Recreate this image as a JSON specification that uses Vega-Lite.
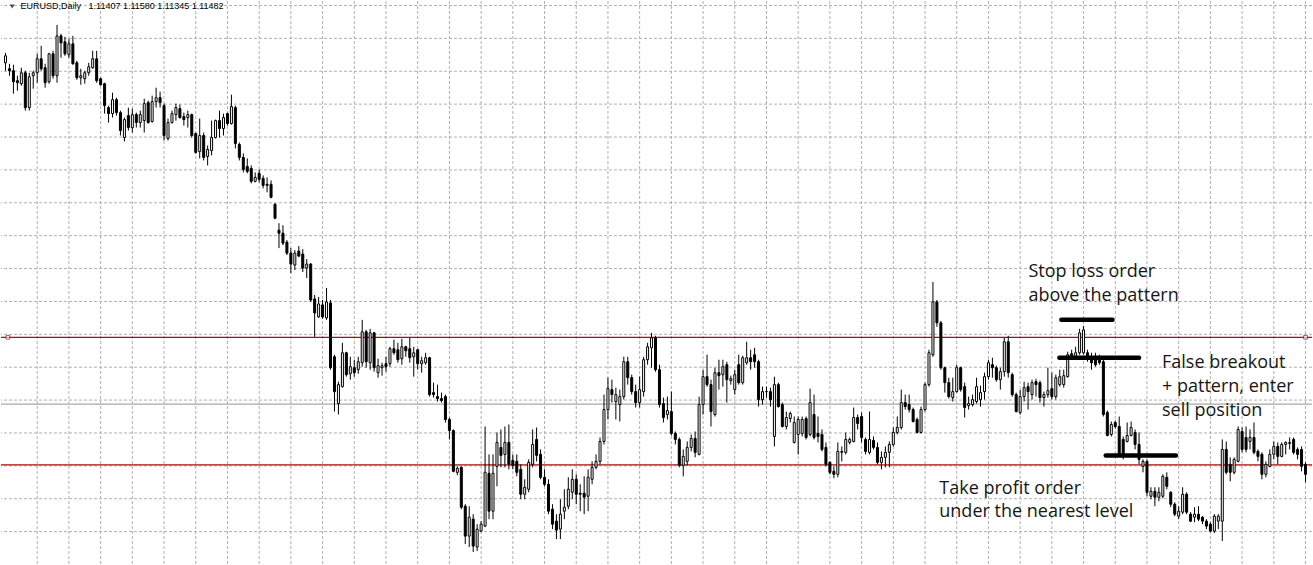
{
"$schema": "https://vega.github.io/schema/vega-lite/v6.json",
"width": 1313, "height": 565,
"autosize": {"type": "fit", "contains": "padding"},
"padding": 0,
"background": "white",
"config": {"view": {"stroke": null}},
"datasets": {
"candles": [
{"i":-1,"o":1.1956,"h":1.1976,"l":1.1940,"c":1.1970},
{"i":0,"o":1.1944,"h":1.1954,"l":1.1930,"c":1.1940},
{"i":1,"o":1.1940,"h":1.1952,"l":1.1894,"c":1.1918},
{"i":2,"o":1.1920,"h":1.1930,"l":1.1900,"c":1.1916},
{"i":3,"o":1.1914,"h":1.1946,"l":1.1910,"c":1.1936},
{"i":4,"o":1.1936,"h":1.1940,"l":1.1860,"c":1.1866},
{"i":5,"o":1.1866,"h":1.1936,"l":1.1860,"c":1.1928},
{"i":6,"o":1.1930,"h":1.1940,"l":1.1904,"c":1.1936},
{"i":7,"o":1.1936,"h":1.1974,"l":1.1916,"c":1.1964},
{"i":8,"o":1.1964,"h":1.1990,"l":1.1940,"c":1.1944},
{"i":9,"o":1.1946,"h":1.1954,"l":1.1906,"c":1.1916},
{"i":10,"o":1.1918,"h":1.1976,"l":1.1914,"c":1.1974},
{"i":11,"o":1.1974,"h":1.1980,"l":1.1924,"c":1.1930},
{"i":12,"o":1.1930,"h":1.2032,"l":1.1916,"c":1.2010},
{"i":13,"o":1.2010,"h":1.2014,"l":1.1966,"c":1.1996},
{"i":14,"o":1.1998,"h":1.2008,"l":1.1970,"c":1.1974},
{"i":15,"o":1.1972,"h":1.2004,"l":1.1966,"c":1.1994},
{"i":16,"o":1.1994,"h":1.2010,"l":1.1952,"c":1.1954},
{"i":17,"o":1.1956,"h":1.1960,"l":1.1922,"c":1.1926},
{"i":18,"o":1.1926,"h":1.1944,"l":1.1912,"c":1.1930},
{"i":19,"o":1.1924,"h":1.1940,"l":1.1914,"c":1.1936},
{"i":20,"o":1.1936,"h":1.1956,"l":1.1930,"c":1.1948},
{"i":21,"o":1.1946,"h":1.1980,"l":1.1944,"c":1.1964},
{"i":22,"o":1.1964,"h":1.1980,"l":1.1916,"c":1.1920},
{"i":23,"o":1.1924,"h":1.1926,"l":1.1910,"c":1.1912},
{"i":24,"o":1.1914,"h":1.1916,"l":1.1854,"c":1.1870},
{"i":25,"o":1.1866,"h":1.1870,"l":1.1836,"c":1.1854},
{"i":26,"o":1.1854,"h":1.1896,"l":1.1846,"c":1.1882},
{"i":27,"o":1.1882,"h":1.1886,"l":1.1850,"c":1.1856},
{"i":28,"o":1.1856,"h":1.1860,"l":1.1810,"c":1.1820},
{"i":29,"o":1.1806,"h":1.1846,"l":1.1798,"c":1.1842},
{"i":30,"o":1.1850,"h":1.1866,"l":1.1820,"c":1.1826},
{"i":31,"o":1.1826,"h":1.1864,"l":1.1816,"c":1.1852},
{"i":32,"o":1.1852,"h":1.1856,"l":1.1826,"c":1.1836},
{"i":33,"o":1.1836,"h":1.1860,"l":1.1826,"c":1.1852},
{"i":34,"o":1.1840,"h":1.1884,"l":1.1816,"c":1.1874},
{"i":35,"o":1.1876,"h":1.1880,"l":1.1834,"c":1.1836},
{"i":36,"o":1.1838,"h":1.1890,"l":1.1836,"c":1.1878},
{"i":37,"o":1.1878,"h":1.1906,"l":1.1866,"c":1.1886},
{"i":38,"o":1.1886,"h":1.1898,"l":1.1866,"c":1.1876},
{"i":39,"o":1.1870,"h":1.1874,"l":1.1800,"c":1.1810},
{"i":40,"o":1.1804,"h":1.1844,"l":1.1800,"c":1.1836},
{"i":41,"o":1.1836,"h":1.1860,"l":1.1834,"c":1.1854},
{"i":42,"o":1.1852,"h":1.1874,"l":1.1840,"c":1.1866},
{"i":43,"o":1.1864,"h":1.1872,"l":1.1844,"c":1.1846},
{"i":44,"o":1.1848,"h":1.1856,"l":1.1830,"c":1.1842},
{"i":45,"o":1.1846,"h":1.1860,"l":1.1826,"c":1.1852},
{"i":46,"o":1.1852,"h":1.1854,"l":1.1806,"c":1.1810},
{"i":47,"o":1.1814,"h":1.1816,"l":1.1774,"c":1.1776},
{"i":48,"o":1.1778,"h":1.1844,"l":1.1764,"c":1.1810},
{"i":49,"o":1.1810,"h":1.1816,"l":1.1760,"c":1.1766},
{"i":50,"o":1.1768,"h":1.1790,"l":1.1750,"c":1.1782},
{"i":51,"o":1.1780,"h":1.1840,"l":1.1770,"c":1.1806},
{"i":52,"o":1.1806,"h":1.1842,"l":1.1804,"c":1.1840},
{"i":53,"o":1.1840,"h":1.1860,"l":1.1806,"c":1.1824},
{"i":54,"o":1.1824,"h":1.1854,"l":1.1810,"c":1.1846},
{"i":55,"o":1.1854,"h":1.1856,"l":1.1830,"c":1.1834},
{"i":56,"o":1.1834,"h":1.1892,"l":1.1832,"c":1.1868},
{"i":57,"o":1.1866,"h":1.1870,"l":1.1784,"c":1.1794},
{"i":58,"o":1.1792,"h":1.1796,"l":1.1760,"c":1.1766},
{"i":59,"o":1.1766,"h":1.1774,"l":1.1736,"c":1.1742},
{"i":60,"o":1.1748,"h":1.1764,"l":1.1734,"c":1.1738},
{"i":61,"o":1.1744,"h":1.1750,"l":1.1714,"c":1.1718},
{"i":62,"o":1.1718,"h":1.1736,"l":1.1716,"c":1.1726},
{"i":63,"o":1.1734,"h":1.1742,"l":1.1716,"c":1.1722},
{"i":64,"o":1.1724,"h":1.1730,"l":1.1704,"c":1.1710},
{"i":65,"o":1.1712,"h":1.1726,"l":1.1696,"c":1.1710},
{"i":66,"o":1.1712,"h":1.1720,"l":1.1684,"c":1.1686},
{"i":67,"o":1.1672,"h":1.1674,"l":1.1642,"c":1.1644},
{"i":68,"o":1.1620,"h":1.1634,"l":1.1584,"c":1.1614},
{"i":69,"o":1.1614,"h":1.1630,"l":1.1590,"c":1.1594},
{"i":70,"o":1.1596,"h":1.1600,"l":1.1570,"c":1.1574},
{"i":71,"o":1.1574,"h":1.1584,"l":1.1534,"c":1.1552},
{"i":72,"o":1.1550,"h":1.1580,"l":1.1540,"c":1.1574},
{"i":73,"o":1.1578,"h":1.1588,"l":1.1566,"c":1.1568},
{"i":74,"o":1.1572,"h":1.1582,"l":1.1536,"c":1.1544},
{"i":75,"o":1.1544,"h":1.1562,"l":1.1524,"c":1.1552},
{"i":76,"o":1.1552,"h":1.1554,"l":1.1476,"c":1.1480},
{"i":77,"o":1.1482,"h":1.1490,"l":1.1406,"c":1.1454},
{"i":78,"o":1.1446,"h":1.1486,"l":1.1444,"c":1.1472},
{"i":79,"o":1.1470,"h":1.1480,"l":1.1442,"c":1.1446},
{"i":80,"o":1.1444,"h":1.1504,"l":1.1440,"c":1.1476},
{"i":81,"o":1.1474,"h":1.1480,"l":1.1340,"c":1.1344},
{"i":82,"o":1.1366,"h":1.1370,"l":1.1256,"c":1.1296},
{"i":83,"o":1.1272,"h":1.1316,"l":1.1250,"c":1.1310},
{"i":84,"o":1.1306,"h":1.1394,"l":1.1304,"c":1.1374},
{"i":85,"o":1.1374,"h":1.1376,"l":1.1326,"c":1.1330},
{"i":86,"o":1.1332,"h":1.1366,"l":1.1320,"c":1.1346},
{"i":87,"o":1.1344,"h":1.1360,"l":1.1326,"c":1.1334},
{"i":88,"o":1.1340,"h":1.1366,"l":1.1332,"c":1.1356},
{"i":89,"o":1.1354,"h":1.1440,"l":1.1346,"c":1.1416},
{"i":90,"o":1.1416,"h":1.1420,"l":1.1344,"c":1.1356},
{"i":91,"o":1.1354,"h":1.1422,"l":1.1340,"c":1.1414},
{"i":92,"o":1.1414,"h":1.1416,"l":1.1336,"c":1.1344},
{"i":93,"o":1.1334,"h":1.1362,"l":1.1324,"c":1.1348},
{"i":94,"o":1.1344,"h":1.1354,"l":1.1328,"c":1.1348},
{"i":95,"o":1.1352,"h":1.1366,"l":1.1336,"c":1.1346},
{"i":96,"o":1.1352,"h":1.1386,"l":1.1346,"c":1.1382},
{"i":97,"o":1.1382,"h":1.1400,"l":1.1370,"c":1.1374},
{"i":98,"o":1.1380,"h":1.1394,"l":1.1354,"c":1.1360},
{"i":99,"o":1.1362,"h":1.1402,"l":1.1350,"c":1.1386},
{"i":100,"o":1.1386,"h":1.1388,"l":1.1366,"c":1.1378},
{"i":101,"o":1.1382,"h":1.1404,"l":1.1354,"c":1.1364},
{"i":102,"o":1.1366,"h":1.1386,"l":1.1326,"c":1.1374},
{"i":103,"o":1.1380,"h":1.1382,"l":1.1340,"c":1.1352},
{"i":104,"o":1.1352,"h":1.1366,"l":1.1334,"c":1.1358},
{"i":105,"o":1.1354,"h":1.1374,"l":1.1350,"c":1.1364},
{"i":106,"o":1.1364,"h":1.1366,"l":1.1286,"c":1.1290},
{"i":107,"o":1.1294,"h":1.1314,"l":1.1284,"c":1.1290},
{"i":108,"o":1.1286,"h":1.1310,"l":1.1276,"c":1.1282},
{"i":109,"o":1.1282,"h":1.1294,"l":1.1274,"c":1.1278},
{"i":110,"o":1.1286,"h":1.1290,"l":1.1234,"c":1.1240},
{"i":111,"o":1.1240,"h":1.1244,"l":1.1200,"c":1.1218},
{"i":112,"o":1.1218,"h":1.1220,"l":1.1134,"c":1.1136},
{"i":113,"o":1.1134,"h":1.1146,"l":1.1128,"c":1.1142},
{"i":114,"o":1.1144,"h":1.1146,"l":1.1060,"c":1.1064},
{"i":115,"o":1.1066,"h":1.1070,"l":1.0990,"c":1.1006},
{"i":116,"o":1.1006,"h":1.1066,"l":1.0984,"c":1.1044},
{"i":117,"o":1.1040,"h":1.1050,"l":1.0974,"c":1.0986},
{"i":118,"o":1.0984,"h":1.1030,"l":1.0976,"c":1.1020},
{"i":119,"o":1.1016,"h":1.1036,"l":1.1014,"c":1.1030},
{"i":120,"o":1.1026,"h":1.1226,"l":1.1024,"c":1.1134},
{"i":121,"o":1.1132,"h":1.1170,"l":1.1040,"c":1.1056},
{"i":122,"o":1.1056,"h":1.1170,"l":1.1040,"c":1.1132},
{"i":123,"o":1.1146,"h":1.1214,"l":1.1106,"c":1.1194},
{"i":124,"o":1.1184,"h":1.1220,"l":1.1144,"c":1.1168},
{"i":125,"o":1.1170,"h":1.1226,"l":1.1144,"c":1.1194},
{"i":126,"o":1.1194,"h":1.1230,"l":1.1140,"c":1.1150},
{"i":127,"o":1.1158,"h":1.1170,"l":1.1140,"c":1.1148},
{"i":128,"o":1.1156,"h":1.1170,"l":1.1126,"c":1.1134},
{"i":129,"o":1.1140,"h":1.1150,"l":1.1080,"c":1.1090},
{"i":130,"o":1.1090,"h":1.1120,"l":1.1080,"c":1.1104},
{"i":131,"o":1.1100,"h":1.1160,"l":1.1094,"c":1.1154},
{"i":132,"o":1.1150,"h":1.1220,"l":1.1144,"c":1.1190},
{"i":133,"o":1.1200,"h":1.1224,"l":1.1156,"c":1.1168},
{"i":134,"o":1.1170,"h":1.1180,"l":1.1120,"c":1.1124},
{"i":135,"o":1.1124,"h":1.1140,"l":1.1106,"c":1.1110},
{"i":136,"o":1.1110,"h":1.1120,"l":1.1050,"c":1.1056},
{"i":137,"o":1.1060,"h":1.1070,"l":1.1020,"c":1.1030},
{"i":138,"o":1.1036,"h":1.1050,"l":1.1000,"c":1.1018},
{"i":139,"o":1.1020,"h":1.1080,"l":1.1000,"c":1.1050},
{"i":140,"o":1.1056,"h":1.1100,"l":1.1040,"c":1.1064},
{"i":141,"o":1.1066,"h":1.1124,"l":1.1060,"c":1.1100},
{"i":142,"o":1.1094,"h":1.1140,"l":1.1080,"c":1.1120},
{"i":143,"o":1.1120,"h":1.1130,"l":1.1070,"c":1.1090},
{"i":144,"o":1.1092,"h":1.1110,"l":1.1056,"c":1.1090},
{"i":145,"o":1.1092,"h":1.1126,"l":1.1050,"c":1.1084},
{"i":146,"o":1.1086,"h":1.1140,"l":1.1056,"c":1.1124},
{"i":147,"o":1.1120,"h":1.1156,"l":1.1110,"c":1.1144},
{"i":148,"o":1.1144,"h":1.1170,"l":1.1140,"c":1.1156},
{"i":149,"o":1.1156,"h":1.1204,"l":1.1150,"c":1.1196},
{"i":150,"o":1.1196,"h":1.1290,"l":1.1190,"c":1.1260},
{"i":151,"o":1.1260,"h":1.1324,"l":1.1240,"c":1.1302},
{"i":152,"o":1.1300,"h":1.1320,"l":1.1274,"c":1.1290},
{"i":153,"o":1.1276,"h":1.1304,"l":1.1240,"c":1.1290},
{"i":154,"o":1.1270,"h":1.1300,"l":1.1236,"c":1.1286},
{"i":155,"o":1.1286,"h":1.1366,"l":1.1280,"c":1.1356},
{"i":156,"o":1.1356,"h":1.1366,"l":1.1310,"c":1.1324},
{"i":157,"o":1.1324,"h":1.1330,"l":1.1290,"c":1.1296},
{"i":158,"o":1.1296,"h":1.1310,"l":1.1264,"c":1.1274},
{"i":159,"o":1.1274,"h":1.1326,"l":1.1264,"c":1.1300},
{"i":160,"o":1.1296,"h":1.1366,"l":1.1286,"c":1.1360},
{"i":161,"o":1.1360,"h":1.1394,"l":1.1350,"c":1.1386},
{"i":162,"o":1.1384,"h":1.1414,"l":1.1344,"c":1.1404},
{"i":163,"o":1.1404,"h":1.1408,"l":1.1336,"c":1.1340},
{"i":164,"o":1.1340,"h":1.1350,"l":1.1264,"c":1.1270},
{"i":165,"o":1.1272,"h":1.1284,"l":1.1234,"c":1.1244},
{"i":166,"o":1.1250,"h":1.1286,"l":1.1240,"c":1.1258},
{"i":167,"o":1.1256,"h":1.1296,"l":1.1208,"c":1.1212},
{"i":168,"o":1.1212,"h":1.1216,"l":1.1190,"c":1.1200},
{"i":169,"o":1.1200,"h":1.1204,"l":1.1144,"c":1.1148},
{"i":170,"o":1.1148,"h":1.1180,"l":1.1126,"c":1.1166},
{"i":171,"o":1.1156,"h":1.1196,"l":1.1148,"c":1.1184},
{"i":172,"o":1.1184,"h":1.1210,"l":1.1176,"c":1.1202},
{"i":173,"o":1.1202,"h":1.1216,"l":1.1164,"c":1.1174},
{"i":174,"o":1.1170,"h":1.1286,"l":1.1168,"c":1.1270},
{"i":175,"o":1.1270,"h":1.1340,"l":1.1250,"c":1.1326},
{"i":176,"o":1.1326,"h":1.1370,"l":1.1306,"c":1.1310},
{"i":177,"o":1.1310,"h":1.1320,"l":1.1226,"c":1.1256},
{"i":178,"o":1.1250,"h":1.1344,"l":1.1246,"c":1.1334},
{"i":179,"o":1.1334,"h":1.1360,"l":1.1300,"c":1.1328},
{"i":180,"o":1.1330,"h":1.1360,"l":1.1306,"c":1.1346},
{"i":181,"o":1.1350,"h":1.1356,"l":1.1274,"c":1.1320},
{"i":182,"o":1.1318,"h":1.1328,"l":1.1310,"c":1.1322},
{"i":183,"o":1.1300,"h":1.1340,"l":1.1290,"c":1.1330},
{"i":184,"o":1.1350,"h":1.1370,"l":1.1310,"c":1.1314},
{"i":185,"o":1.1314,"h":1.1368,"l":1.1310,"c":1.1364},
{"i":186,"o":1.1354,"h":1.1396,"l":1.1350,"c":1.1364},
{"i":187,"o":1.1364,"h":1.1380,"l":1.1340,"c":1.1356},
{"i":188,"o":1.1370,"h":1.1384,"l":1.1344,"c":1.1356},
{"i":189,"o":1.1356,"h":1.1360,"l":1.1266,"c":1.1280},
{"i":190,"o":1.1280,"h":1.1306,"l":1.1270,"c":1.1296},
{"i":191,"o":1.1296,"h":1.1306,"l":1.1284,"c":1.1296},
{"i":192,"o":1.1296,"h":1.1304,"l":1.1266,"c":1.1280},
{"i":193,"o":1.1206,"h":1.1326,"l":1.1186,"c":1.1310},
{"i":194,"o":1.1310,"h":1.1314,"l":1.1264,"c":1.1266},
{"i":195,"o":1.1270,"h":1.1274,"l":1.1224,"c":1.1226},
{"i":196,"o":1.1226,"h":1.1256,"l":1.1220,"c":1.1244},
{"i":197,"o":1.1242,"h":1.1256,"l":1.1234,"c":1.1252},
{"i":198,"o":1.1194,"h":1.1246,"l":1.1192,"c":1.1234},
{"i":199,"o":1.1210,"h":1.1246,"l":1.1170,"c":1.1240},
{"i":200,"o":1.1212,"h":1.1246,"l":1.1206,"c":1.1240},
{"i":201,"o":1.1242,"h":1.1246,"l":1.1200,"c":1.1204},
{"i":202,"o":1.1210,"h":1.1302,"l":1.1206,"c":1.1274},
{"i":203,"o":1.1250,"h":1.1290,"l":1.1200,"c":1.1204},
{"i":204,"o":1.1212,"h":1.1246,"l":1.1194,"c":1.1206},
{"i":205,"o":1.1210,"h":1.1220,"l":1.1176,"c":1.1180},
{"i":206,"o":1.1184,"h":1.1194,"l":1.1146,"c":1.1150},
{"i":207,"o":1.1154,"h":1.1156,"l":1.1130,"c":1.1134},
{"i":208,"o":1.1136,"h":1.1146,"l":1.1122,"c":1.1130},
{"i":209,"o":1.1130,"h":1.1194,"l":1.1124,"c":1.1176},
{"i":210,"o":1.1174,"h":1.1186,"l":1.1156,"c":1.1176},
{"i":211,"o":1.1174,"h":1.1214,"l":1.1170,"c":1.1200},
{"i":212,"o":1.1194,"h":1.1204,"l":1.1190,"c":1.1200},
{"i":213,"o":1.1196,"h":1.1264,"l":1.1194,"c":1.1244},
{"i":214,"o":1.1244,"h":1.1250,"l":1.1220,"c":1.1232},
{"i":215,"o":1.1246,"h":1.1254,"l":1.1194,"c":1.1204},
{"i":216,"o":1.1200,"h":1.1204,"l":1.1170,"c":1.1176},
{"i":217,"o":1.1174,"h":1.1256,"l":1.1170,"c":1.1200},
{"i":218,"o":1.1198,"h":1.1206,"l":1.1180,"c":1.1184},
{"i":219,"o":1.1184,"h":1.1194,"l":1.1150,"c":1.1154},
{"i":220,"o":1.1154,"h":1.1176,"l":1.1140,"c":1.1164},
{"i":221,"o":1.1164,"h":1.1186,"l":1.1144,"c":1.1174},
{"i":222,"o":1.1174,"h":1.1196,"l":1.1144,"c":1.1190},
{"i":223,"o":1.1190,"h":1.1224,"l":1.1186,"c":1.1214},
{"i":224,"o":1.1214,"h":1.1246,"l":1.1210,"c":1.1224},
{"i":225,"o":1.1224,"h":1.1300,"l":1.1220,"c":1.1274},
{"i":226,"o":1.1274,"h":1.1290,"l":1.1260,"c":1.1266},
{"i":227,"o":1.1270,"h":1.1290,"l":1.1254,"c":1.1260},
{"i":228,"o":1.1260,"h":1.1264,"l":1.1234,"c":1.1236},
{"i":229,"o":1.1240,"h":1.1244,"l":1.1212,"c":1.1214},
{"i":230,"o":1.1214,"h":1.1266,"l":1.1212,"c":1.1260},
{"i":231,"o":1.1260,"h":1.1314,"l":1.1256,"c":1.1310},
{"i":232,"o":1.1310,"h":1.1380,"l":1.1306,"c":1.1374},
{"i":233,"o":1.1370,"h":1.1516,"l":1.1366,"c":1.1476},
{"i":234,"o":1.1476,"h":1.1480,"l":1.1426,"c":1.1434},
{"i":235,"o":1.1434,"h":1.1438,"l":1.1340,"c":1.1344},
{"i":236,"o":1.1344,"h":1.1346,"l":1.1294,"c":1.1314},
{"i":237,"o":1.1314,"h":1.1324,"l":1.1282,"c":1.1286},
{"i":238,"o":1.1284,"h":1.1324,"l":1.1276,"c":1.1296},
{"i":239,"o":1.1296,"h":1.1350,"l":1.1294,"c":1.1344},
{"i":240,"o":1.1344,"h":1.1346,"l":1.1296,"c":1.1300},
{"i":241,"o":1.1306,"h":1.1314,"l":1.1244,"c":1.1264},
{"i":242,"o":1.1268,"h":1.1286,"l":1.1260,"c":1.1272},
{"i":243,"o":1.1270,"h":1.1290,"l":1.1266,"c":1.1280},
{"i":244,"o":1.1276,"h":1.1324,"l":1.1272,"c":1.1306},
{"i":245,"o":1.1280,"h":1.1308,"l":1.1266,"c":1.1294},
{"i":246,"o":1.1296,"h":1.1334,"l":1.1280,"c":1.1326},
{"i":247,"o":1.1326,"h":1.1360,"l":1.1320,"c":1.1354},
{"i":248,"o":1.1350,"h":1.1364,"l":1.1324,"c":1.1344},
{"i":249,"o":1.1344,"h":1.1348,"l":1.1316,"c":1.1320},
{"i":250,"o":1.1320,"h":1.1344,"l":1.1300,"c":1.1336},
{"i":251,"o":1.1336,"h":1.1404,"l":1.1326,"c":1.1396},
{"i":252,"o":1.1396,"h":1.1408,"l":1.1324,"c":1.1334},
{"i":253,"o":1.1330,"h":1.1334,"l":1.1286,"c":1.1290},
{"i":254,"o":1.1290,"h":1.1294,"l":1.1254,"c":1.1256},
{"i":255,"o":1.1254,"h":1.1300,"l":1.1250,"c":1.1286},
{"i":256,"o":1.1286,"h":1.1316,"l":1.1276,"c":1.1304},
{"i":257,"o":1.1306,"h":1.1314,"l":1.1260,"c":1.1296},
{"i":258,"o":1.1290,"h":1.1320,"l":1.1280,"c":1.1314},
{"i":259,"o":1.1316,"h":1.1322,"l":1.1286,"c":1.1310},
{"i":260,"o":1.1314,"h":1.1318,"l":1.1274,"c":1.1284},
{"i":261,"o":1.1284,"h":1.1296,"l":1.1266,"c":1.1290},
{"i":262,"o":1.1290,"h":1.1344,"l":1.1284,"c":1.1298},
{"i":263,"o":1.1302,"h":1.1334,"l":1.1280,"c":1.1286},
{"i":264,"o":1.1286,"h":1.1330,"l":1.1280,"c":1.1324},
{"i":265,"o":1.1310,"h":1.1340,"l":1.1306,"c":1.1326},
{"i":266,"o":1.1310,"h":1.1340,"l":1.1304,"c":1.1328},
{"i":267,"o":1.1326,"h":1.1376,"l":1.1324,"c":1.1370},
{"i":268,"o":1.1372,"h":1.1380,"l":1.1360,"c":1.1368},
{"i":269,"o":1.1366,"h":1.1386,"l":1.1364,"c":1.1374},
{"i":270,"o":1.1374,"h":1.1422,"l":1.1370,"c":1.1414},
{"i":271,"o":1.1374,"h":1.1428,"l":1.1370,"c":1.1420},
{"i":272,"o":1.1374,"h":1.1380,"l":1.1356,"c":1.1366},
{"i":273,"o":1.1366,"h":1.1374,"l":1.1340,"c":1.1354},
{"i":274,"o":1.1364,"h":1.1374,"l":1.1346,"c":1.1350},
{"i":275,"o":1.1360,"h":1.1370,"l":1.1350,"c":1.1354},
{"i":276,"o":1.1356,"h":1.1360,"l":1.1246,"c":1.1250},
{"i":277,"o":1.1254,"h":1.1258,"l":1.1206,"c":1.1208},
{"i":278,"o":1.1210,"h":1.1236,"l":1.1206,"c":1.1230},
{"i":279,"o":1.1234,"h":1.1238,"l":1.1222,"c":1.1226},
{"i":280,"o":1.1226,"h":1.1246,"l":1.1166,"c":1.1170},
{"i":281,"o":1.1200,"h":1.1206,"l":1.1160,"c":1.1170},
{"i":282,"o":1.1196,"h":1.1234,"l":1.1194,"c":1.1208},
{"i":283,"o":1.1208,"h":1.1236,"l":1.1206,"c":1.1224},
{"i":284,"o":1.1214,"h":1.1220,"l":1.1180,"c":1.1190},
{"i":285,"o":1.1190,"h":1.1214,"l":1.1150,"c":1.1160},
{"i":286,"o":1.1146,"h":1.1160,"l":1.1134,"c":1.1156},
{"i":287,"o":1.1156,"h":1.1160,"l":1.1086,"c":1.1094},
{"i":288,"o":1.1086,"h":1.1104,"l":1.1080,"c":1.1096},
{"i":289,"o":1.1096,"h":1.1104,"l":1.1066,"c":1.1084},
{"i":290,"o":1.1084,"h":1.1104,"l":1.1076,"c":1.1094},
{"i":291,"o":1.1086,"h":1.1130,"l":1.1082,"c":1.1126},
{"i":292,"o":1.1124,"h":1.1134,"l":1.1100,"c":1.1106},
{"i":293,"o":1.1094,"h":1.1096,"l":1.1064,"c":1.1070},
{"i":294,"o":1.1070,"h":1.1074,"l":1.1046,"c":1.1050},
{"i":295,"o":1.1046,"h":1.1066,"l":1.1040,"c":1.1056},
{"i":296,"o":1.1054,"h":1.1104,"l":1.1050,"c":1.1090},
{"i":297,"o":1.1090,"h":1.1094,"l":1.1050,"c":1.1054},
{"i":298,"o":1.1050,"h":1.1054,"l":1.1034,"c":1.1036},
{"i":299,"o":1.1044,"h":1.1064,"l":1.1034,"c":1.1050},
{"i":300,"o":1.1050,"h":1.1066,"l":1.1036,"c":1.1040},
{"i":301,"o":1.1044,"h":1.1046,"l":1.1030,"c":1.1036},
{"i":302,"o":1.1036,"h":1.1040,"l":1.1020,"c":1.1026},
{"i":303,"o":1.1030,"h":1.1034,"l":1.1014,"c":1.1016},
{"i":304,"o":1.1016,"h":1.1050,"l":1.1012,"c":1.1046},
{"i":305,"o":1.1036,"h":1.1050,"l":1.1020,"c":1.1046},
{"i":306,"o":1.1036,"h":1.1200,"l":1.0996,"c":1.1180},
{"i":307,"o":1.1180,"h":1.1196,"l":1.1130,"c":1.1134},
{"i":308,"o":1.1150,"h":1.1164,"l":1.1116,"c":1.1134},
{"i":309,"o":1.1134,"h":1.1164,"l":1.1130,"c":1.1160},
{"i":310,"o":1.1156,"h":1.1226,"l":1.1154,"c":1.1220},
{"i":311,"o":1.1216,"h":1.1224,"l":1.1174,"c":1.1180},
{"i":312,"o":1.1204,"h":1.1226,"l":1.1174,"c":1.1180},
{"i":313,"o":1.1196,"h":1.1220,"l":1.1180,"c":1.1204},
{"i":314,"o":1.1204,"h":1.1234,"l":1.1170,"c":1.1174},
{"i":315,"o":1.1176,"h":1.1180,"l":1.1156,"c":1.1166},
{"i":316,"o":1.1170,"h":1.1174,"l":1.1120,"c":1.1130},
{"i":317,"o":1.1130,"h":1.1156,"l":1.1124,"c":1.1150},
{"i":318,"o":1.1146,"h":1.1180,"l":1.1144,"c":1.1170},
{"i":319,"o":1.1170,"h":1.1196,"l":1.1160,"c":1.1186},
{"i":320,"o":1.1186,"h":1.1194,"l":1.1150,"c":1.1166},
{"i":321,"o":1.1166,"h":1.1194,"l":1.1164,"c":1.1190},
{"i":322,"o":1.1190,"h":1.1196,"l":1.1170,"c":1.1194},
{"i":323,"o":1.1192,"h":1.1204,"l":1.1180,"c":1.1194},
{"i":324,"o":1.1200,"h":1.1204,"l":1.1170,"c":1.1174},
{"i":325,"o":1.1180,"h":1.1184,"l":1.1160,"c":1.1170},
{"i":326,"o":1.1180,"h":1.1186,"l":1.1136,"c":1.1146},
{"i":327,"o":1.1150,"h":1.1154,"l":1.1114,"c":1.1130}
],
"gridx": [{"i":7},{"i":15},{"i":23},{"i":31},{"i":39},{"i":47},{"i":55},{"i":63},{"i":71},{"i":79},{"i":87},{"i":95},{"i":103},{"i":111},{"i":119},{"i":127},{"i":135},{"i":143},{"i":151},{"i":159},{"i":167},{"i":175},{"i":183},{"i":191},{"i":199},{"i":207},{"i":215},{"i":223},{"i":231},{"i":239},{"i":247},{"i":255},{"i":263},{"i":271},{"i":279},{"i":287},{"i":295},{"i":303},{"i":311},{"i":319},{"i":327}],
"gridy": [{"p":1.2071},{"p":1.2005},{"p":1.1939},{"p":1.1873},{"p":1.1807},{"p":1.1741},{"p":1.1675},{"p":1.1609},{"p":1.1543},{"p":1.1477},{"p":1.1411},{"p":1.1345},{"p":1.1279},{"p":1.1213},{"p":1.1147},{"p":1.1081},{"p":1.1015}],
"levels": [
{"p":1.1405,"k":"resistance"},
{"p":1.1149,"k":"support"},
{"p":1.1271,"k":"bid"}
],
"handles": [
{"i":-0.4,"p":1.1405},
{"i":327.0,"p":1.1405}
],
"marks": [
{"a":265.4,"b":278.3,"p":1.1440},
{"a":264.9,"b":285.0,"p":1.1364},
{"a":276.6,"b":294.3,"p":1.1168}
],
"notes": [
{"i":257.1,"p":1.1526,"t":"Stop loss order"},
{"i":257.1,"p":1.1478,"t":"above the pattern"},
{"i":290.8,"p":1.1344,"t":"False breakout"},
{"i":290.8,"p":1.1296,"t":"+ pattern, enter"},
{"i":290.8,"p":1.1248,"t":"sell position"},
{"i":234.6,"p":1.1090,"t":"Take profit order"},
{"i":234.6,"p":1.1044,"t":"under the nearest level"}
],
"header": [
{"i":2.8,"p":1.20634,"t":"EURUSD,Daily\u00a0\u00a0\u00a01.11407 1.11580 1.11345 1.11482"}
],
"arrow": [
{"i":0.7,"p":1.2069}
]
},
"layer": [
{
"data": {"name": "gridx"},
"mark": {"type": "rule", "color": "#b0b0b0", "strokeWidth": 1, "strokeDash": [3, 2]},
"encoding": {
"x": {"field": "i", "type": "quantitative", "title": null, "axis": null,
"scale": {"domain": [-0.875, 327.375], "nice": false, "zero": false}}
}
},
{
"data": {"name": "gridy"},
"mark": {"type": "rule", "color": "#b0b0b0", "strokeWidth": 1, "strokeDash": [3, 2]},
"encoding": {
"y": {"field": "p", "type": "quantitative", "title": null, "axis": null,
"scale": {"domain": [1.0950, 1.2080], "nice": false, "zero": false}}
}
},
{
"data": {"name": "levels"},
"mark": {"type": "rule", "clip": true},
"encoding": {
"y": {"field": "p", "type": "quantitative", "title": null, "axis": null},
"color": {"field": "k", "type": "nominal", "legend": null,
"scale": {"domain": ["resistance","support","bid"], "range": ["#b00c0c","#b00c0c","#a8a8a8"]}},
"strokeWidth": {"field": "k", "type": "nominal", "legend": null,
"scale": {"domain": ["resistance","support","bid"], "range": [1.2,1.2,1]}}
}
},
{
"data": {"name": "candles"},
"mark": {"type": "rule", "color": "black", "strokeWidth": 1, "clip": true},
"encoding": {
"x": {"field": "i", "type": "quantitative", "title": null, "axis": null},
"y": {"field": "l", "type": "quantitative", "title": null, "axis": null},
"y2": {"field": "h"}
}
},
{
"data": {"name": "candles"},
"mark": {"type": "bar", "size": 2, "stroke": "black", "strokeWidth": 1, "orient": "vertical", "clip": true},
"encoding": {
"x": {"field": "i", "type": "quantitative", "title": null, "axis": null},
"y": {"field": "o", "type": "quantitative", "title": null, "axis": null},
"y2": {"field": "c"},
"fill": {"condition": {"test": "datum.c >= datum.o", "value": "white"}, "value": "black"}
}
},
{
"data": {"name": "handles"},
"mark": {"type": "point", "shape": "square", "size": 14, "filled": true, "fill": "white", "stroke": "#b00c0c", "strokeWidth": 1, "clip": true},
"encoding": {
"x": {"field": "i", "type": "quantitative", "title": null, "axis": null},
"y": {"field": "p", "type": "quantitative", "title": null, "axis": null}
}
},
{
"data": {"name": "marks"},
"mark": {"type": "rule", "color": "black", "strokeWidth": 4.5, "strokeCap": "round", "clip": true},
"encoding": {
"x": {"field": "a", "type": "quantitative", "title": null, "axis": null},
"x2": {"field": "b"},
"y": {"field": "p", "type": "quantitative", "title": null, "axis": null}
}
},
{
"data": {"name": "notes"},
"mark": {"type": "text", "align": "left", "baseline": "alphabetic", "font": "Open Sans", "fontSize": 18, "color": "#161616"},
"encoding": {
"x": {"field": "i", "type": "quantitative", "title": null, "axis": null},
"y": {"field": "p", "type": "quantitative", "title": null, "axis": null},
"text": {"field": "t", "type": "nominal"}
}
},
{
"data": {"name": "header"},
"mark": {"type": "text", "align": "left", "baseline": "alphabetic", "font": "Liberation Sans", "fontSize": 9, "color": "black"},
"encoding": {
"x": {"field": "i", "type": "quantitative", "title": null, "axis": null},
"y": {"field": "p", "type": "quantitative", "title": null, "axis": null},
"text": {"field": "t", "type": "nominal"}
}
},
{
"data": {"name": "arrow"},
"mark": {"type": "point", "shape": "triangle-down", "size": 22, "filled": true, "color": "black"},
"encoding": {
"x": {"field": "i", "type": "quantitative", "title": null, "axis": null},
"y": {"field": "p", "type": "quantitative", "title": null, "axis": null}
}
}
]
}
